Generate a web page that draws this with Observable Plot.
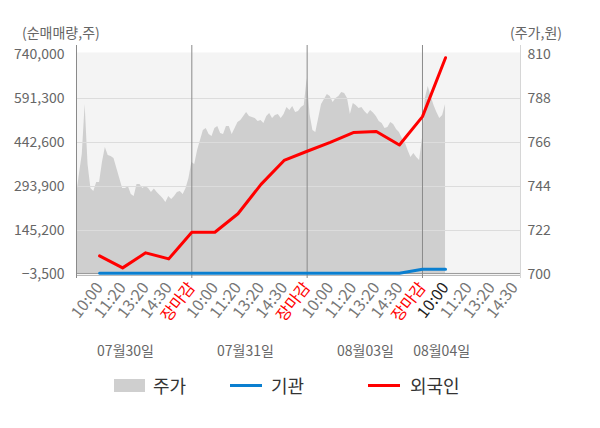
<!DOCTYPE html>
<html><head><meta charset="utf-8">
<script src="https://cdn.jsdelivr.net/npm/d3@7"></script>
<script src="https://cdn.jsdelivr.net/npm/@observablehq/plot@0.6"></script>
<style>
body{margin:0;background:#fff;font-family:"Noto Sans CJK KR","Noto Sans",sans-serif;}
#wrap{position:relative;width:600px;height:428px;}
#chart{position:absolute;left:0;top:0;}
.hdr{position:absolute;font-size:14px;color:#666;line-height:1;}
.leg{position:absolute;font-size:18px;color:#333;line-height:1;}
.sw{position:absolute;}
</style></head>
<body>
<div id="wrap">
  <div id="chart"></div>
  <div class="hdr" style="left:22px;top:25px;">(순매매량,주)</div>
  <div class="hdr" style="left:510px;top:25px;">(주가,원)</div>
  <div class="sw" style="left:114px;top:379px;width:31px;height:13px;background:#cfcfcf;"></div>
  <div class="leg" style="left:153px;top:376px;">주가</div>
  <div class="sw" style="left:230px;top:384px;width:32px;height:3px;background:#0a7fd0;"></div>
  <div class="leg" style="left:271px;top:376px;">기관</div>
  <div class="sw" style="left:368px;top:384px;width:32px;height:3px;background:#ff0000;"></div>
  <div class="leg" style="left:410px;top:376px;">외국인</div>
</div>
<script>
// ---- data ----
const days = ["07월30일", "07월31일", "08월03일", "08월04일"];
const timeLabels = ["10:00", "11:20", "13:20", "14:30", "장마감"];
const leftTicks = [-3500, 145200, 293900, 442600, 591300, 740000];
const rightTicks = [700, 722, 744, 766, 788, 810];

// price (won), equally spaced intraday samples (40 per full day)
const price0730 = [739,750,760,785,755,743,741.5,746,746,756,763.5,759.5,759,758,753,748,743,743,744,740,
  739,745,745,743,744,743,741,742.8,741,739.5,738,736,739,737.5,739,741,741.5,740,743,748];
const price0731 = [756,755,762,767,772,773,770,769,773,774,770.5,770,774,774,770,773,776,777,779,781,
  779,778.5,778,776.5,777,775.5,779,780.5,778,779.5,780,778,780,783.5,782,784,781,781.5,783.5,784.5];
const price0803 = [798,780,772,771,778,785,787.5,790,789,786,788,789,791,790.5,788,780,785.5,784.5,783,783.5,
  781.5,780,782,780.7,779,776.5,775.5,773,773.5,776,775,772.5,771,768,766,762,758.5,760.5,758.5,757];
const price0804 = [768,788,794,789,784.5,781,778,779.5,785];

// cumulative net buying (shares) at each time tick
const foreign0730 = [59500, 18900, 69700, 49300, 139400];
const foreign0731 = [139400, 201800, 301000, 382000, 413000];
const foreign0803 = [443000, 476000, 480000, 434000, 530000];
const foreign0804 = [729000];
const inst0730 = [500, 400, 500, 400, 500];
const inst0731 = [500, 400, 500, 500, 400];
const inst0803 = [500, 400, 500, 600, 14500];
const inst0804 = [14500];

// ---- build tables ----
const SAMPLES = 40;
const toVol = p => leftTicks[0] + (p - rightTicks[0]) / (rightTicks[5] - rightTicks[0]) * (leftTicks[5] - leftTicks[0]);
const fromVol = v => rightTicks[0] + (v - leftTicks[0]) / (leftTicks[5] - leftTicks[0]) * (rightTicks[5] - rightTicks[0]);

const priceRows = [price0730, price0731, price0803, price0804].flatMap((arr, d) =>
  arr.map((p, i) => ({x: d + i / SAMPLES, v: toVol(p)})));
const lineRows = (series) => series.flatMap((arr, d) => arr.map((v, k) => ({x: d + (k + 1) / 5, v})));
const foreignRows = lineRows([foreign0730, foreign0731, foreign0803, foreign0804]);
const instRows = lineRows([inst0730, inst0731, inst0803, inst0804]);

const allTicks = [];
days.forEach((_, d) => timeLabels.forEach((t, k) => {
  const x = +(d + (k + 1) / 5).toFixed(4);
  if (d === days.length - 1 && k === 4) return;
  allTicks.push({x, label: t, kind: t === "장마감" ? "close" : (d === days.length - 1 && k === 0 ? "now" : "normal")});
}));
const tickLabel = x => { const t = allTicks.find(o => Math.abs(o.x - x) < 1e-6); return t ? t.label : ""; };
const ticksOf = kind => allTicks.filter(o => o.kind === kind).map(o => o.x);

const dayLabelX = days.map((_, i) => i < days.length - 1 ? i * 1.04 + 0.425 : i + 0.166);
const xMax = 3.85;

const font = '"Noto Sans CJK KR","Noto Sans",sans-serif';
const axisCommon = {tickRotate: -52, tickSize: 0, tickPadding: 10, fontSize: 16, tickFormat: tickLabel};

const chart = Plot.plot({
  width: 600, height: 370,
  marginLeft: 76, marginRight: 80, marginTop: 54, marginBottom: 96,
  style: {fontFamily: font, fontSize: "14px", background: "transparent", overflow: "visible"},
  x: {domain: [0, xMax]},
  y: {domain: [leftTicks[0], leftTicks[5]]},
  marks: [
    Plot.frame({fill: "#f4f4f4", stroke: null, insetTop: -2, insetBottom: -1}),
    Plot.areaY(priceRows, {x: "x", y1: leftTicks[0], y2: "v", fill: "#cfcfcf"}),
    Plot.ruleY(leftTicks.slice(1, 5), {stroke: "#dcdcdc", strokeWidth: 1}),
    Plot.ruleY([0], {stroke: "#999", strokeWidth: 1}),
    Plot.ruleY([leftTicks[0]], {stroke: "#bbb", strokeWidth: 1, dy: 1}),
    Plot.ruleX([0, 1, 2, 3], {stroke: "#8a8a8a", strokeWidth: 1, insetTop: -9, insetBottom: -4}),
    Plot.ruleX([xMax], {stroke: "#d6d6d6", strokeWidth: 1, insetTop: -9, insetBottom: -4}),
    Plot.line(instRows, {x: "x", y: "v", stroke: "#0a7fd0", strokeWidth: 3}),
    Plot.line(foreignRows, {x: "x", y: "v", stroke: "#ff0000", strokeWidth: 3}),
    Plot.axisY(leftTicks, {anchor: "left", tickSize: 0, tickPadding: 12, fill: "#666", fontSize: 14, tickFormat: d3.format(","), label: null}),
    Plot.axisY(rightTicks.map(toVol), {anchor: "right", tickSize: 0, tickPadding: 7, fill: "#666", fontSize: 14, tickFormat: v => Math.round(fromVol(v)), label: null}),
    Plot.axisX(ticksOf("normal"), {...axisCommon, fill: "#777", label: null}),
    Plot.axisX(ticksOf("close"), {...axisCommon, fill: "#ff0000", label: null}),
    Plot.axisX(ticksOf("now"), {...axisCommon, fill: "#222", label: null}),
    Plot.text(days, {x: (d, i) => dayLabelX[i], frameAnchor: "bottom", dy: 81, fill: "#666", fontSize: 14, text: d => d})
  ]
});
document.getElementById("chart").appendChild(chart);
</script>
</body></html>
